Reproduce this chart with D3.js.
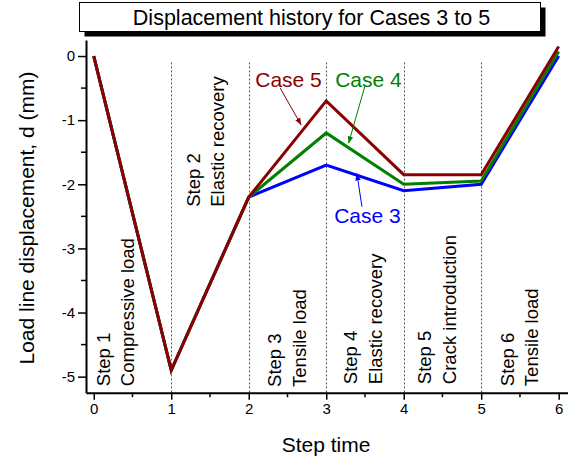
<!DOCTYPE html>
<html>
<head>
<meta charset="utf-8">
<script src="https://cdn.jsdelivr.net/npm/d3@7"></script>
<style>
  html, body { margin: 0; padding: 0; background: #fff; }
  svg { display: block; font-family: "Liberation Sans", Arial, sans-serif; }
</style>
</head>
<body>
<svg id="chart" width="568" height="459"></svg>
<script>
// Step time points and displacement (mm) for each case
const stepTimes = [0, 1, 2, 3, 4, 5, 6];
const case3 = [0, -4.9, -2.2, -1.7, -2.1, -2.0, 0.0];
const case4 = [0, -4.9, -2.2, -1.2, -2.0, -1.95, 0.07];
const case5 = [0, -4.9, -2.2, -0.7, -1.85, -1.85, 0.15];

const seriesNames = ["Case 3", "Case 4", "Case 5"];
const seriesColors = ["#0000ff", "#008000", "#8b0000"];

const xTicks = [0, 1, 2, 3, 4, 5, 6];
const yTicks = [0, -1, -2, -3, -4, -5];
const stepBoundaries = [1, 2, 3, 4, 5];

// Step descriptions, anchored in data units (x, y of the first line's start)
const stepLine1 = ["Step 1", "Step 2", "Step 3", "Step 4", "Step 5", "Step 6"];
const stepLine2 = ["Compressive load", "Elastic recovery", "Tensile load", "Elastic recovery", "Crack introduction", "Tensile load"];
const stepAnchorX = [0.204, 1.365, 2.414, 3.395, 4.35, 5.417];
const stepAnchorY = [-5.148, -2.351, -5.16, -5.117, -5.117, -5.148];

// Series callouts: label start, arrow tail, arrow tip (data units)
const calloutLabelX = [3.103, 3.116, 2.084];
const calloutLabelY = [-2.605, -0.479, -0.479];
const arrowFromX = [3.461, 3.503, 2.406];
const arrowFromY = [-2.351, -0.452, -0.50];
const arrowToX = [3.396, 3.288, 2.677];
const arrowToY = [-1.83, -1.362, -1.076];

const svg = d3.select("#chart");

const x = d3.scaleLinear().domain([-0.1, 6.12]).range([86, 568]);
const y = d3.scaleLinear().domain([-5.25, 0.25]).range([392.7, 40]);

// Title box with drop shadow
const title = svg.append("g");
title.append("rect").attr("x", 84.5).attr("y", 7.5).attr("width", 461).attr("height", 29).attr("fill", "#000");
title.append("rect").attr("x", 79.5).attr("y", 2.5).attr("width", 461).attr("height", 29)
  .attr("fill", "#fff").attr("stroke", "#000").attr("stroke-width", 1);
title.append("text").attr("x", 311.5).attr("y", 25).attr("text-anchor", "middle")
  .attr("font-size", 21.5).attr("fill", "#000").text("Displacement history for Cases 3 to 5");

// Dotted step boundaries
svg.append("g").selectAll("line").data(stepBoundaries).join("line")
  .attr("x1", d => Math.round(x(d)) + 0.5).attr("x2", d => Math.round(x(d)) + 0.5)
  .attr("y1", y(-0.1)).attr("y2", y(-5.25))
  .attr("stroke", "#555").attr("stroke-width", 1).attr("stroke-dasharray", "2,2");

// Axes
const xMinor = d3.range(0.5, 6.1, 1);
const yMinor = d3.range(-4.5, 0.1, 1).concat([0]).filter(v => Math.abs(v % 1) > 0.1);

const xAxis = d3.axisBottom(x).tickValues(xTicks).tickFormat(d3.format("d")).tickSizeInner(7).tickSizeOuter(0).tickPadding(4);
const gx = svg.append("g").attr("transform", `translate(0,${y.range()[0]})`).call(xAxis);
gx.selectAll(".tick").filter(d => false).remove();
gx.append("g").selectAll("line").data(xMinor).join("line")
  .attr("x1", d => x(d)).attr("x2", d => x(d)).attr("y1", 0).attr("y2", 4.5).attr("stroke", "#000").attr("stroke-width", 1.5);

const yAxis = d3.axisLeft(y).tickValues(yTicks).tickFormat(d3.format("d")).tickSizeInner(8).tickSizeOuter(0).tickPadding(3);
const gy = svg.append("g").attr("transform", `translate(${x.range()[0]},0)`).call(yAxis);
gy.append("g").selectAll("line").data(yMinor).join("line")
  .attr("x1", 0).attr("x2", -5).attr("y1", d => y(d)).attr("y2", d => y(d)).attr("stroke", "#000").attr("stroke-width", 1.5);

[gx, gy].forEach(g => {
  g.select(".domain").attr("stroke", "#000").attr("stroke-width", 2);
  g.selectAll(".tick line").attr("stroke", "#000").attr("stroke-width", 1.5);
  g.selectAll(".tick text").attr("font-size", 15).attr("fill", "#000")
    .attr("font-family", '"Liberation Sans", Arial, sans-serif')
    .text(d => d < 0 ? "-" + Math.abs(d) : d);
});
gx.selectAll(".tick text").attr("dy", "0.71em");

// Axis titles
svg.append("text").attr("x", 326).attr("y", 452).attr("text-anchor", "middle")
  .attr("font-size", 21).attr("fill", "#000").text("Step time");
svg.append("text").attr("transform", "translate(34,218) rotate(-90)").attr("text-anchor", "middle")
  .attr("font-size", 21).attr("fill", "#000").text("Load line displacement, d (mm)");

// Step descriptions (rotated, two lines)
const steps = svg.append("g").selectAll("text").data(stepLine1).join("text")
  .attr("transform", (d, i) => `translate(${x(stepAnchorX[i])},${y(stepAnchorY[i])}) rotate(-90)`)
  .attr("font-size", 18.5).attr("fill", "#000");
steps.append("tspan").attr("x", 0).attr("y", 0).text(d => d);
steps.append("tspan").attr("x", 0).attr("y", 24.7).text((d, i) => stepLine2[i]);

// Series lines (Case 5 drawn last, on top)
const line = d3.line().x((d, i) => x(stepTimes[i])).y(d => y(d));
const seriesData = [case3, case4, case5];
svg.append("g").selectAll("path").data(seriesData).join("path")
  .attr("d", d => line(d)).attr("fill", "none")
  .attr("stroke", (d, i) => seriesColors[i]).attr("stroke-width", 3)
  .attr("stroke-linejoin", "miter");

// Callout arrows and labels
const defs = svg.append("defs");
seriesColors.forEach((c, i) => {
  defs.append("marker").attr("id", "arrow" + i).attr("viewBox", "0 0 10 10")
    .attr("refX", 10).attr("refY", 5).attr("markerWidth", 7).attr("markerHeight", 7)
    .attr("markerUnits", "userSpaceOnUse").attr("orient", "auto")
    .append("path").attr("d", "M0,1 L10,5 L0,9 Z").attr("fill", c);
});
svg.append("g").selectAll("line").data(seriesNames).join("line")
  .attr("x1", (d, i) => x(arrowFromX[i])).attr("y1", (d, i) => y(arrowFromY[i]))
  .attr("x2", (d, i) => x(arrowToX[i])).attr("y2", (d, i) => y(arrowToY[i]))
  .attr("stroke", (d, i) => seriesColors[i]).attr("stroke-width", 1)
  .attr("marker-end", (d, i) => `url(#arrow${i})`);
svg.append("g").selectAll("text").data(seriesNames).join("text")
  .attr("x", (d, i) => x(calloutLabelX[i])).attr("y", (d, i) => y(calloutLabelY[i]))
  .attr("font-size", 21).attr("fill", (d, i) => seriesColors[i]).text(d => d);
</script>
</body>
</html>
